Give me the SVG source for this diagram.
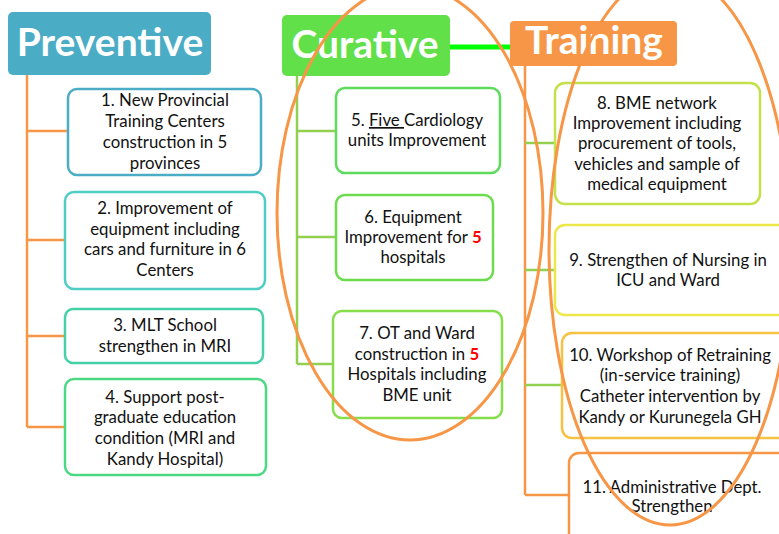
<svg xmlns="http://www.w3.org/2000/svg" width="779" height="534" viewBox="0 0 779 534">
  <style>
    .hdr { font-family: Lato, "Open Sans", sans-serif; font-weight: bold; fill: #fff; font-size: 39px; }
    .txt { font-family: Lato, "Open Sans", sans-serif; font-size: 16.8px; fill: #111; text-anchor: middle; }
    .box { fill: #fff; stroke-width: 2.5; }
    .red { fill: #ff0000; font-weight: bold; }
    .link { fill: none; stroke-width: 2.5; }
    .ring { fill: none; stroke: #f79646; stroke-width: 3; }
  </style>

  <!-- connectors -->
  <g id="connectors">
    <path class="link" stroke="#f79646" d="M27 75 V427 M27 131 H68 M27 240 H65 M27 336 H65 M27 427 H65"/>
    <path fill="none" stroke="#00ff00" stroke-width="5" d="M450 47 H512"/>
    <path class="link" stroke="#92d050" d="M297 76 V364 M297 131 H336 M297 237 H336 M297 364 H333"/>
    <path class="link" stroke="#f79646" d="M525 66 V495 M525 495 H569"/>
    <path class="link" stroke="#92d050" d="M525 143 H555 M525 270 H555 M525 385 H562"/>
  </g>

  <!-- column headers -->
  <g id="preventive">
    <rect x="8" y="12" width="203" height="63" rx="5" fill="#4bacc6"/>
    <text class="hdr" x="110" y="56" text-anchor="middle">Preventive</text>
  </g>
  <g id="curative">
    <rect x="282" y="15" width="168" height="61" rx="5" fill="#62e04a"/>
    <text class="hdr" x="365" y="58" text-anchor="middle">Curative</text>
  </g>
  <g id="training">
    <rect x="510" y="21" width="167" height="45" rx="4" fill="#f79646"/>
    <text class="hdr" x="594" y="54" text-anchor="middle">Training</text>
  </g>

  <!-- preventive items -->
  <g id="n1">
    <rect class="box" x="68" y="89" width="193" height="86" rx="9" stroke="#4bacc6"/>
    <text class="txt" x="165" y="106">1. New Provincial</text>
    <text class="txt" x="165" y="127">Training Centers</text>
    <text class="txt" x="165" y="148">construction in 5</text>
    <text class="txt" x="165" y="169">provinces</text>
  </g>
  <g id="n2">
    <rect class="box" x="65" y="192" width="200" height="97" rx="9" stroke="#4ecdc4"/>
    <text class="txt" x="165" y="214">2. Improvement of</text>
    <text class="txt" x="165" y="235">equipment including</text>
    <text class="txt" x="165" y="255">cars and furniture in 6</text>
    <text class="txt" x="165" y="276">Centers</text>
  </g>
  <g id="n3">
    <rect class="box" x="65" y="309" width="198" height="54" rx="8" stroke="#45d0a8"/>
    <text class="txt" x="165" y="331">3. MLT School</text>
    <text class="txt" x="165" y="352">strengthen in MRI</text>
  </g>
  <g id="n4">
    <rect class="box" x="65" y="379" width="201" height="96" rx="9" stroke="#4cd984"/>
    <text class="txt" x="165" y="403">4. Support post-</text>
    <text class="txt" x="165" y="423">graduate education</text>
    <text class="txt" x="165" y="444">condition (MRI and</text>
    <text class="txt" x="165" y="465">Kandy Hospital)</text>
  </g>

  <!-- curative items -->
  <g id="n5">
    <rect class="box" x="336" y="88" width="164" height="85" rx="9" stroke="#5cdb5c"/>
    <text class="txt" x="417" y="126">5. <tspan text-decoration="underline">Five </tspan>Cardiology</text>
    <text class="txt" x="417" y="146">units Improvement</text>
  </g>
  <g id="n6">
    <rect class="box" x="336" y="195" width="157" height="85" rx="9" stroke="#6cdc4c"/>
    <text class="txt" x="413" y="223">6.  Equipment</text>
    <text class="txt" x="413" y="243">Improvement for <tspan class="red">5</tspan></text>
    <text class="txt" x="413" y="263">hospitals</text>
  </g>
  <g id="n7">
    <rect class="box" x="333" y="311" width="169" height="107" rx="9" stroke="#86de4a"/>
    <text class="txt" x="417" y="339">7. OT and Ward</text>
    <text class="txt" x="417" y="360">construction in <tspan class="red">5</tspan></text>
    <text class="txt" x="417" y="380">Hospitals including</text>
    <text class="txt" x="417" y="401">BME unit</text>
  </g>

  <!-- training items -->
  <g id="n8">
    <rect class="box" x="555" y="83" width="205" height="121" rx="10" stroke="#c4e04a"/>
    <text class="txt" x="657" y="109">8. BME network</text>
    <text class="txt" x="657" y="129">Improvement including</text>
    <text class="txt" x="657" y="149">procurement of tools,</text>
    <text class="txt" x="657" y="170">vehicles and sample of</text>
    <text class="txt" x="657" y="190">medical equipment</text>
  </g>
  <g id="n9">
    <rect class="box" x="555" y="225" width="240" height="90" rx="10" stroke="#ede84a"/>
    <text class="txt" x="668" y="266">9. Strengthen of Nursing in</text>
    <text class="txt" x="668" y="286">ICU and Ward</text>
  </g>
  <g id="n10">
    <rect class="box" x="562" y="333" width="235" height="105" rx="10" stroke="#f6c244"/>
    <text class="txt" x="670" y="361">10. Workshop of Retraining</text>
    <text class="txt" x="670" y="381">(in-service training)</text>
    <text class="txt" x="670" y="402">Catheter intervention by</text>
    <text class="txt" x="670" y="423">Kandy or Kurunegela GH</text>
  </g>
  <g id="n11">
    <rect class="box" x="569" y="453" width="230" height="100" rx="10" stroke="#f79646"/>
    <text class="txt" x="672" y="493">11. Administrative Dept.</text>
    <text class="txt" x="672" y="512">Strengthen</text>
  </g>

  <!-- highlight rings -->
  <ellipse class="ring" cx="410" cy="213" rx="133" ry="227"/>
  <ellipse class="ring" cx="670" cy="249" rx="121" ry="276"/>
</svg>
